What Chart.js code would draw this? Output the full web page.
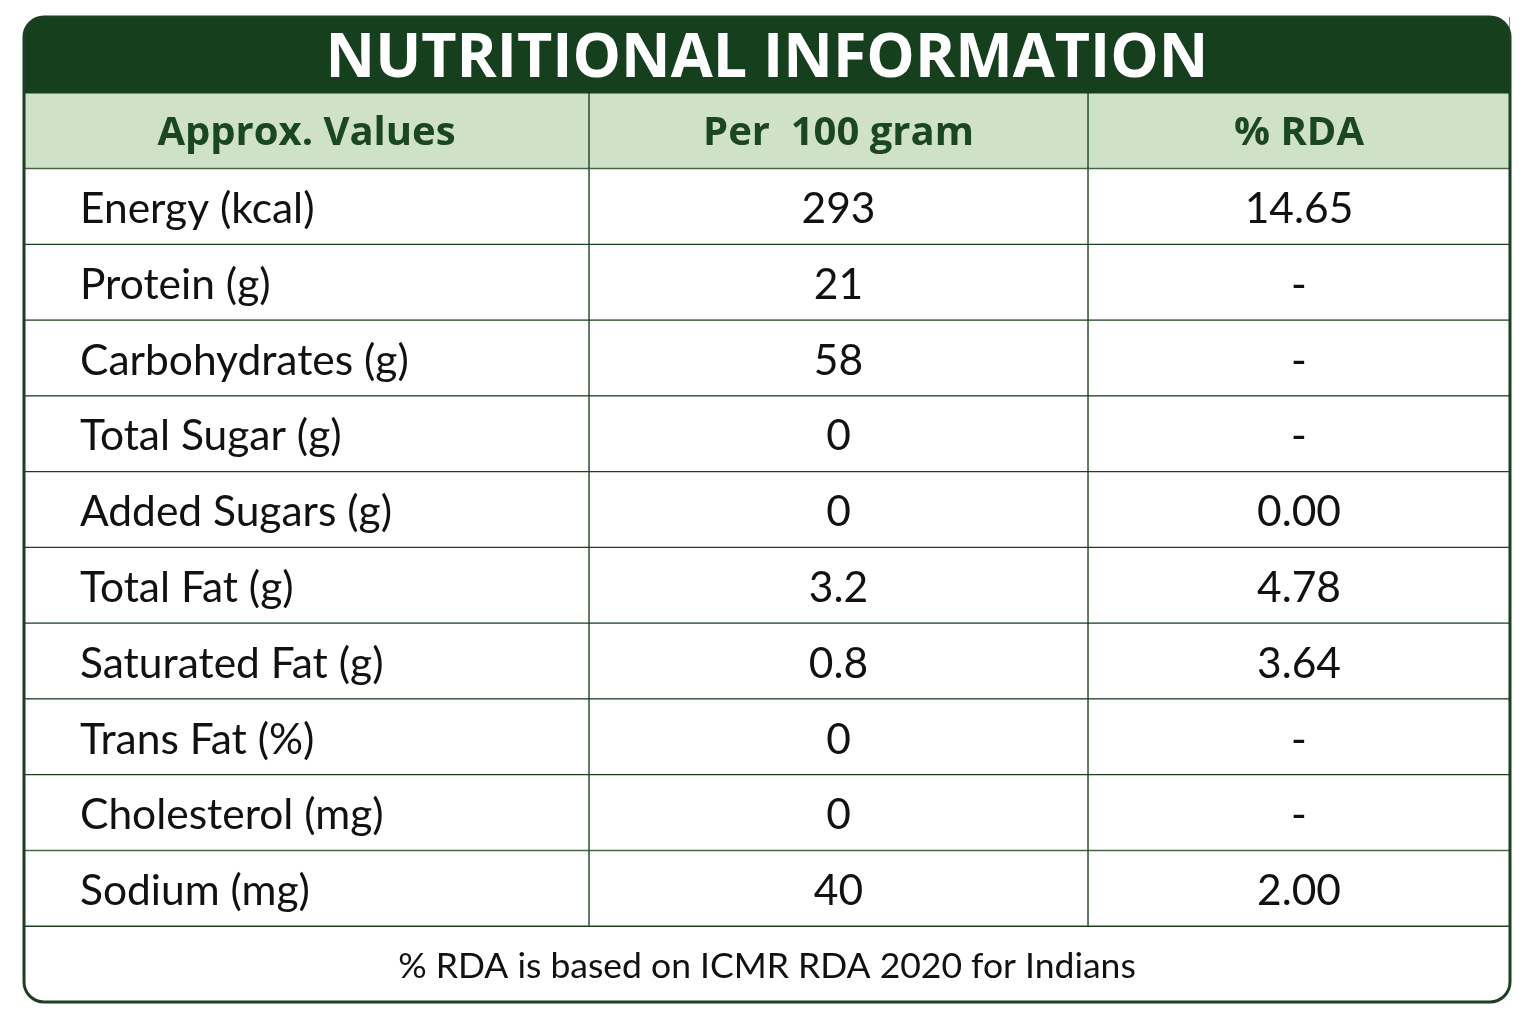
<!DOCTYPE html>
<html>
<head>
<meta charset="utf-8">
<title>Nutritional Information</title>
<script src="https://cdn.jsdelivr.net/npm/chart.js@4.4.1/dist/chart.umd.min.js"></script>
<style>
    html, body { margin: 0; padding: 0; background: #ffffff; }
    #wrap { width: 1536px; height: 1024px; position: relative; }
</style>
</head>
<body>
<div id="wrap"><canvas id="tableChart"></canvas></div>
<script>
// table content
const title = 'NUTRITIONAL INFORMATION';
const headers = ['Approx. Values', 'Per  100 gram', '% RDA'];
const nutrients = [
    'Energy (kcal)', 'Protein (g)', 'Carbohydrates (g)', 'Total Sugar (g)', 'Added Sugars (g)',
    'Total Fat (g)', 'Saturated Fat (g)', 'Trans Fat (%)', 'Cholesterol (mg)', 'Sodium (mg)'
];
const per100g = ['293', '21', '58', '0', '0', '3.2', '0.8', '0', '0', '40'];
const rdaPercent = ['14.65', '-', '-', '-', '0.00', '4.78', '3.64', '-', '-', '2.00'];
const footnote = '% RDA is based on ICMR RDA 2020 for Indians';

// layout (column widths in px along the hidden x scale)
const COL_WIDTHS = [565, 499, 422];
const TOTAL_WIDTH = COL_WIDTHS.reduce((a, b) => a + b, 0);

const DARK = '#163f1d';
const LIGHT = '#cfe1c6';
const LINE = '#1d3f22';

const rows = [title, 'header', ...nutrients, 'footnote'];
const LAST = rows.length - 1;

function isBand(r) { return r === 0 || r === LAST; }

const datasets = COL_WIDTHS.map((w, col) => ({
    label: headers[col],
    data: rows.map((_, r) => isBand(r) ? (col === 0 ? TOTAL_WIDTH : 0) : w),
    backgroundColor: ctx => ctx.dataIndex === 0 ? DARK : (ctx.dataIndex === 1 ? LIGHT : '#ffffff'),
    borderColor: LINE,
    borderWidth: ctx => (ctx.dataIndex === 0 || ctx.raw === 0) ? 0 : 1,
    borderSkipped: false,
    borderRadius: ctx => {
        if (ctx.dataIndex === 0) return { topLeft: 20, topRight: 20, bottomLeft: 0, bottomRight: 0 };
        if (ctx.dataIndex === LAST) return { topLeft: 0, topRight: 0, bottomLeft: 20, bottomRight: 20 };
        return 0;
    },
    barPercentage: 1,
    categoryPercentage: 1
}));

// outer rounded frame + all cell text, placed from the bar elements
const tableText = {
    id: 'tableText',
    afterDatasetsDraw(chart) {
        const ctx = chart.ctx;
        const area = chart.chartArea;
        ctx.save();
        ctx.strokeStyle = LINE;
        ctx.lineWidth = 3;
        ctx.beginPath();
        ctx.roundRect(area.left, area.top, area.right - area.left, area.bottom - area.top, 20);
        ctx.stroke();

        const metas = [0, 1, 2].map(i => chart.getDatasetMeta(i).data);
        const center = (el) => (el.x + el.base) / 2;
        ctx.textBaseline = 'middle';

        // title
        const t = metas[0][0];
        ctx.fillStyle = '#ffffff';
        ctx.textAlign = 'center';
        ctx.font = "700 61px 'Open Sans', sans-serif";
        ctx.fillText(title, center(t), t.y + 5);

        // header row
        ctx.fillStyle = '#1a4620';
        ctx.font = "700 40px 'Open Sans', sans-serif";
        headers.forEach((h, col) => {
            const el = metas[col][1];
            ctx.fillText(h, center(el), el.y + 3);
        });

        // body rows
        ctx.fillStyle = '#111111';
        ctx.font = "400 42.5px 'Lato', sans-serif";
        nutrients.forEach((n, i) => {
            const r = i + 2;
            const a = metas[0][r], b = metas[1][r], c = metas[2][r];
            ctx.textAlign = 'left';
            ctx.fillText(n, Math.min(a.x, a.base) + 56, a.y + 3);
            ctx.textAlign = 'center';
            ctx.fillText(per100g[i], center(b), b.y + 3);
            ctx.fillText(rdaPercent[i], center(c), c.y + 3);
        });

        // footnote
        const f = metas[0][LAST];
        ctx.font = "400 35.5px 'Lato', sans-serif";
        ctx.textAlign = 'center';
        ctx.fillText(footnote, center(f), f.y + 2);
        ctx.restore();
    }
};

new Chart(document.getElementById('tableChart'), {
    type: 'bar',
    data: { labels: rows, datasets: datasets },
    options: {
        indexAxis: 'y',
        responsive: true,
        maintainAspectRatio: false,
        animation: false,
        layout: { padding: { left: 24, right: 26, top: 17, bottom: 22 } },
        scales: {
            x: { type: 'linear', stacked: true, min: 0, max: TOTAL_WIDTH, display: false },
            y: { type: 'category', stacked: true, display: false }
        },
        plugins: {
            legend: { display: false },
            tooltip: { enabled: false }
        }
    },
    plugins: [tableText]
});
</script>
</body>
</html>
